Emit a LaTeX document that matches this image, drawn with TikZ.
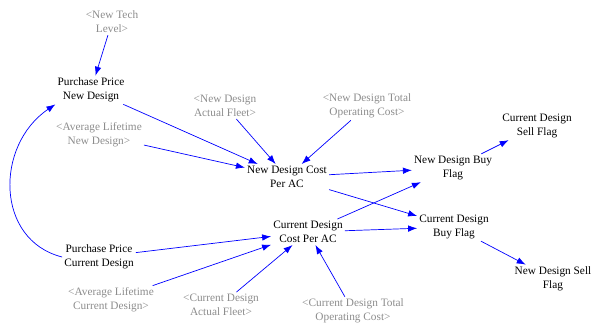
\documentclass[tikz,border=0pt]{standalone}
\usepackage{fontspec}
\setmainfont{Liberation Serif}
\usetikzlibrary{arrows.meta}
\definecolor{linkblue}{RGB}{0,0,255}
\definecolor{shadowgray}{RGB}{140,140,140}

\begin{document}
\begin{tikzpicture}[x=1pt,y=-1pt,
  var/.style={align=center,inner sep=2pt,font=\fontsize{11.3}{14}\selectfont},
  shadow/.style={var,text=shadowgray},
  link/.style={linkblue,line width=0.7pt,-{Latex[length=9pt,width=6.5pt]}}]
\useasboundingbox (0,0) rectangle (591,325);

% Shadow variables
\node[shadow] (ntl) at (112,22) {<New Tech\\Level>};
\node[shadow] (alnd) at (99,135) {<Average Lifetime\\New Design>};
\node[shadow] (ndaf) at (225,106) {<New Design\\Actual Fleet>};
\node[shadow] (ndtoc) at (367,106) {<New Design Total\\Operating Cost>};
\node[shadow] (alcd) at (111,300) {<Average Lifetime\\Current Design>};
\node[shadow] (cdaf) at (221,305) {<Current Design\\Actual Fleet>};
\node[shadow] (cdtoc) at (353,311) {<Current Design Total\\Operating Cost>};

% Variables
\node[var] (ppnd) at (91,90) {Purchase Price\\New Design};
\node[var] (ppcd) at (99,257) {Purchase Price\\Current Design};
\node[var] (ndcost) at (287,177) {New Design Cost\\Per AC};
\node[var] (cdcost) at (308,232) {Current Design\\Cost Per AC};
\node[var] (ndbuy) at (453,168) {New Design Buy\\Flag};
\node[var] (cdbuy) at (454,227) {Current Design\\Buy Flag};
\node[var] (cdsell) at (537,126) {Current Design\\Sell Flag};
\node[var] (ndsell) at (553,279) {New Design Sell\\Flag};

% Links
\draw[link] (ntl) -- (ppnd);
\draw[link] (ppnd) -- (ndcost);
\draw[link] (alnd) -- (ndcost);
\draw[link] (ndaf) -- (ndcost);
\draw[link] (ndtoc) -- (ndcost);
\draw[link] (ppcd) -- (cdcost);
\draw[link] (alcd) -- (cdcost);
\draw[link] (cdaf) -- (cdcost);
\draw[link] (cdtoc) -- (cdcost);
\draw[link] (ndcost) -- (ndbuy);
\draw[link] (ndcost) -- (cdbuy);
\draw[link] (cdcost) -- (ndbuy);
\draw[link] (cdcost) -- (cdbuy);
\draw[link] (ndbuy) -- (cdsell);
\draw[link] (cdbuy) -- (ndsell);

% Feedback from current to new price
\draw[link] (ppcd.west) .. controls (-5,240) and (-5,145) .. (ppnd.south west);

\end{tikzpicture}
\end{document}
